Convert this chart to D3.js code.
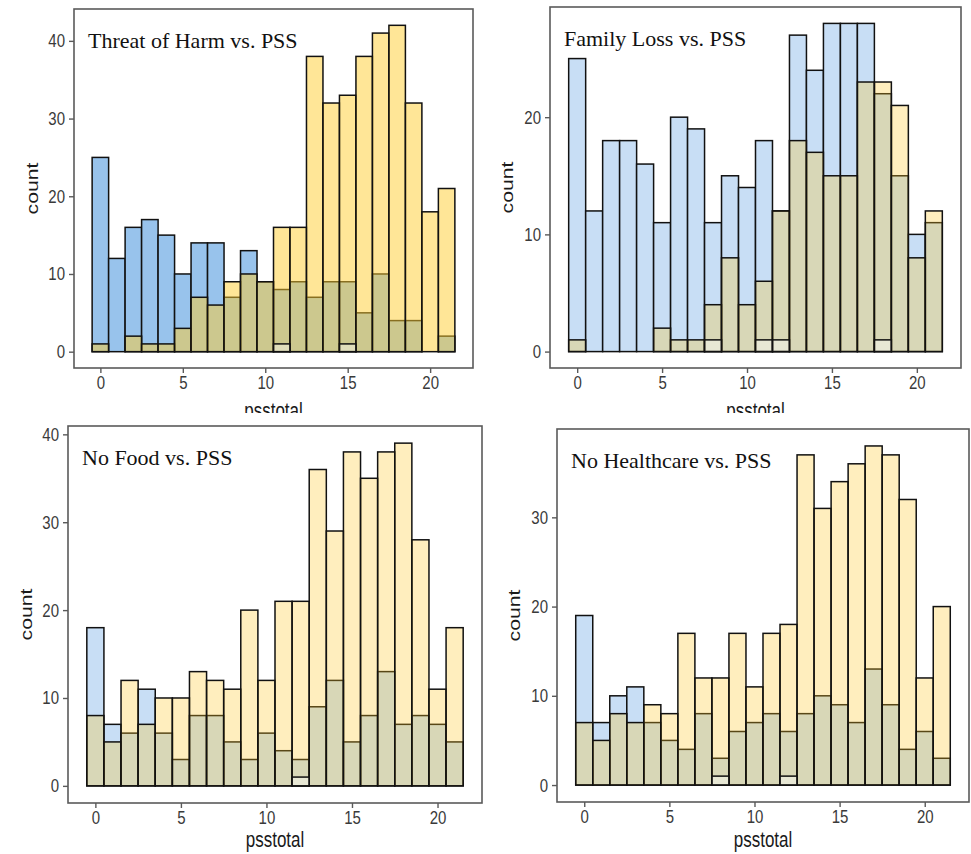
<!DOCTYPE html>
<html>
<head>
<meta charset="utf-8">
<script src="https://cdn.jsdelivr.net/npm/d3@7"></script>
<style>
  html, body { margin: 0; padding: 0; background: #ffffff; }
  svg { display: block; }
</style>
</head>
<body>
<svg id="chart" width="971" height="854"></svg>
<script>
// ---------- DATA ----------
const bins = [0,1,2,3,4,5,6,7,8,9,10,11,12,13,14,15,16,17,18,19,20,21];
const xTicks = [0, 5, 10, 15, 20];

const harmBlue   = [25,12,16,17,15,10,14,14,7,13,9,8,9,7,9,9,5,10,4,4,0,2];
const harmYellow = [1,0,2,1,1,3,7,6,9,10,9,16,16,38,32,33,38,41,42,32,18,21];
const harmOther  = [0,0,0,0,0,0,0,0,0,0,0,1,0,0,0,1,0,0,0,0,0,0];
const harmTicks  = [0,10,20,30,40];

const lossBlue   = [25,12,18,18,16,11,20,19,11,15,14,18,12,27,24,28,28,28,22,15,10,11];
const lossYellow = [1,0,0,0,0,2,1,1,4,8,4,6,12,18,17,15,15,23,23,21,8,12];
const lossOther  = [0,0,0,0,0,0,0,0,1,0,0,1,1,0,0,0,0,0,1,0,0,0];
const lossTicks  = [0,10,20];

const foodBlue   = [18,7,6,11,6,3,8,8,5,3,6,4,3,9,12,5,8,13,7,8,7,5];
const foodYellow = [8,5,12,7,10,10,13,12,11,20,12,21,21,36,29,38,35,38,39,28,11,18];
const foodOther  = [0,0,0,0,0,0,0,0,0,0,0,0,1,0,0,0,0,0,0,0,0,0];
const foodTicks  = [0,10,20,30,40];

const careBlue   = [19,7,10,11,7,5,4,8,3,6,7,8,6,8,10,9,7,13,9,4,6,3];
const careYellow = [7,5,8,7,9,8,17,12,12,17,11,17,18,37,31,34,36,38,37,32,12,20];
const careOther  = [0,0,0,0,0,0,0,0,1,0,0,0,1,0,0,0,0,0,0,0,0,0];
const careTicks  = [0,10,20,30];

const titles = ["Threat of Harm vs. PSS", "Family Loss vs. PSS", "No Food vs. PSS", "No Healthcare vs. PSS"];
const xLabel = "psstotal";
const yLabel = "count";

// ---------- LAYOUT / STYLE ----------
const panels = [
  { title: titles[0], blue: harmBlue, yellow: harmYellow, other: harmOther, ticks: harmTicks,
    box: {l: 74, t: 9, r: 473, b: 368}, countX: 32, xLabY: 411, top: true,
    blueFill: "#98c3ec", yellowFill: "#ffcd30", yellowOp: 0.5 },
  { title: titles[1], blue: lossBlue, yellow: lossYellow, other: lossOther, ticks: lossTicks,
    box: {l: 550, t: 7, r: 961, b: 368}, countX: 507, xLabY: 411, top: true,
    blueFill: "#c8def5", yellowFill: "#ffc828", yellowOp: 0.3 },
  { title: titles[2], blue: foodBlue, yellow: foodYellow, other: foodOther, ticks: foodTicks,
    box: {l: 68, t: 426, r: 482, b: 803}, countX: 26, xLabY: 840, top: false,
    blueFill: "#c8def5", yellowFill: "#ffc828", yellowOp: 0.3 },
  { title: titles[3], blue: careBlue, yellow: careYellow, other: careOther, ticks: careTicks,
    box: {l: 557, t: 429, r: 969, b: 802}, countX: 514, xLabY: 840, top: false,
    blueFill: "#c8def5", yellowFill: "#ffc828", yellowOp: 0.3 }
];

const svg = d3.select("#chart");
const defs = svg.append("defs");
defs.append("clipPath").attr("id", "topclip")
  .append("rect").attr("x", 0).attr("y", 0).attr("width", 971).attr("height", 413);

const sans = "'Liberation Sans', Arial, sans-serif";
const serif = "'Liberation Serif', 'Times New Roman', serif";

panels.forEach(p => {
  const g = svg.append("g");
  if (p.top) g.attr("clip-path", "url(#topclip)");
  const B = p.box;
  const maxV = d3.max([d3.max(p.blue), d3.max(p.yellow), d3.max(p.other)]);
  const x = d3.scaleLinear().domain([-1.6, 22.6]).range([B.l, B.r]);
  const y = d3.scaleLinear().domain([-0.05 * maxV, 1.05 * maxV]).range([B.b, B.t]);

  // blue bars
  g.append("g").selectAll("rect").data(bins).join("rect")
    .attr("x", d => x(d - 0.5)).attr("width", d => x(d + 0.5) - x(d - 0.5))
    .attr("y", (d, i) => y(p.blue[i])).attr("height", (d, i) => y(0) - y(p.blue[i]))
    .attr("fill", p.blueFill).attr("stroke", "#111").attr("stroke-width", 1.5);

  // yellow bars
  g.append("g").selectAll("rect").data(bins).join("rect")
    .attr("x", d => x(d - 0.5)).attr("width", d => x(d + 0.5) - x(d - 0.5))
    .attr("y", (d, i) => y(p.yellow[i])).attr("height", (d, i) => y(0) - y(p.yellow[i]))
    .attr("fill", p.yellowFill).attr("fill-opacity", p.yellowOp)
    .attr("stroke", "#111").attr("stroke-width", 1.5);

  // third group (small counts)
  g.append("g").selectAll("rect").data(bins.filter((d, i) => p.other[i] > 0)).join("rect")
    .attr("x", d => x(d - 0.5)).attr("width", d => x(d + 0.5) - x(d - 0.5))
    .attr("y", d => y(p.other[bins.indexOf(d)]))
    .attr("height", d => y(0) - y(p.other[bins.indexOf(d)]))
    .attr("fill", "#ffffff").attr("fill-opacity", 0.4)
    .attr("stroke", "#111").attr("stroke-width", 1.5);

  // panel border
  g.append("rect").attr("x", B.l).attr("y", B.t)
    .attr("width", B.r - B.l).attr("height", B.b - B.t)
    .attr("fill", "none").attr("stroke", "#5a5a5a").attr("stroke-width", 1.6);

  // x axis
  const xa = g.append("g").attr("transform", `translate(0,${B.b})`)
    .call(d3.axisBottom(x).tickValues(xTicks).tickSize(5).tickPadding(3).tickFormat(d3.format("d")));
  xa.select(".domain").remove();
  xa.selectAll(".tick line").attr("stroke", "#5a5a5a").attr("stroke-width", 1.4);
  xa.selectAll(".tick text").attr("fill", "#3a3a3a").attr("font-family", sans).attr("font-size", 15)
    .attr("dy", null).attr("y", 0)
    .attr("transform", "translate(0,21) scale(1,1.25)");

  // y axis
  const ya = g.append("g").attr("transform", `translate(${B.l},0)`)
    .call(d3.axisLeft(y).tickValues(p.ticks).tickSize(5).tickPadding(3).tickFormat(d3.format("d")));
  ya.select(".domain").remove();
  ya.selectAll(".tick line").attr("stroke", "#5a5a5a").attr("stroke-width", 1.4);
  ya.selectAll(".tick text").attr("fill", "#3a3a3a").attr("font-family", sans).attr("font-size", 15)
    .attr("dy", null).attr("x", 0).attr("y", 0)
    .attr("transform", "translate(-9,6) scale(1,1.25)");

  // axis titles
  g.append("text").attr("font-family", sans).attr("font-size", 17).attr("fill", "#1a1a1a")
    .attr("text-anchor", "middle")
    .attr("transform", `translate(${(x(-0.5) + x(21.5)) / 2},${p.xLabY}) scale(1,1.25)`)
    .attr("dy", "0.35em").text(xLabel);
  g.append("text").attr("font-family", sans).attr("font-size", 17).attr("fill", "#1a1a1a")
    .attr("text-anchor", "middle")
    .attr("transform", `translate(${p.countX},${(B.t + B.b) / 2}) scale(1,1.25) rotate(-90)`)
    .attr("dy", "0.35em").text(yLabel);

  // panel title
  g.append("text").attr("font-family", serif).attr("font-size", 22).attr("fill", "#111")
    .attr("x", B.l + 14).attr("y", B.t + 39).text(p.title);
});
</script>
</body>
</html>
